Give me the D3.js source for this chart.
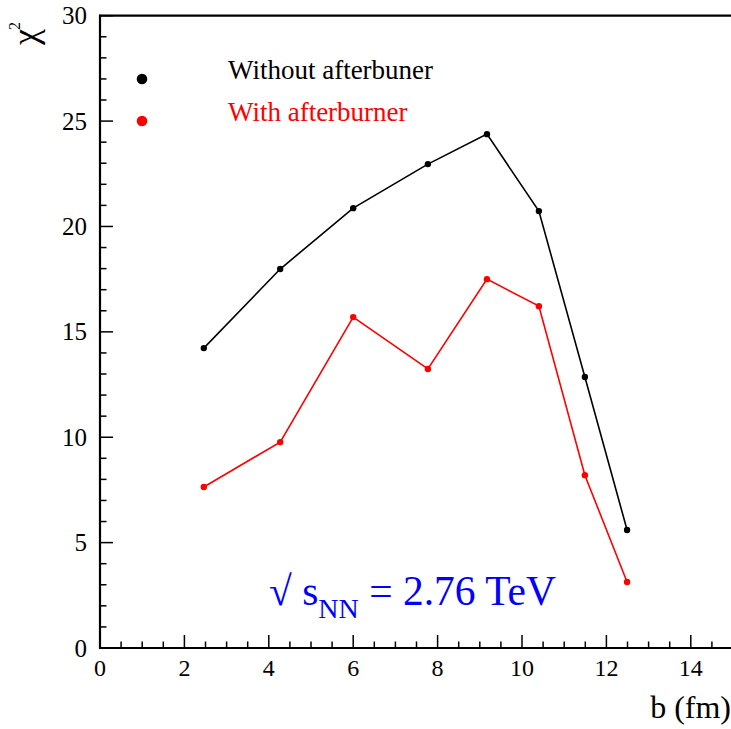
<!DOCTYPE html>
<html>
<head>
<meta charset="utf-8">
<script src="https://cdn.jsdelivr.net/npm/d3@7"></script>
<style>
  html, body { margin: 0; padding: 0; background: #fff; }
  svg { display: block; }
  svg text { font-family: "Liberation Serif", "Times New Roman", serif; }
</style>
</head>
<body>
<svg id="chart" width="731" height="729"></svg>
<script>
// ---- data ----
const impactB = [2.46, 4.27, 6.0, 7.77, 9.17, 10.4, 11.49, 12.49];
const chi2Without = [14.23, 17.98, 20.87, 22.96, 24.38, 20.73, 12.86, 5.6];
const chi2With = [7.64, 9.77, 15.7, 13.24, 17.5, 16.22, 8.2, 3.13];
const seriesNames = ["Without afterbuner", "With afterburner"];
const seriesColors = ["#000000", "#ff0000"];
const xTickValues = [0, 2, 4, 6, 8, 10, 12, 14];
const yTickValues = [0, 5, 10, 15, 20, 25, 30];

const FONT = '"Liberation Serif", "Times New Roman", serif';
const svg = d3.select("#chart");
const x = d3.scaleLinear().domain([0, 15]).range([100, 733]);
const y = d3.scaleLinear().domain([0, 30]).range([648, 15.7]);

// minor ticks
const xMinor = d3.range(0, 15.01, 0.5).filter(v => !xTickValues.includes(v));
const yMinor = d3.range(0, 30.01, 1).filter(v => !yTickValues.includes(v));

const axG = svg.append("g");
axG.selectAll(".xmaj").data(xTickValues).enter().append("line")
  .attr("x1", d => x(d)).attr("x2", d => x(d))
  .attr("y1", y(0)).attr("y2", y(0) - 13)
  .attr("stroke", "#000").attr("stroke-width", 1.5);
axG.selectAll(".xmin").data(xMinor).enter().append("line")
  .attr("x1", d => x(d)).attr("x2", d => x(d))
  .attr("y1", y(0)).attr("y2", y(0) - 6.5)
  .attr("stroke", "#000").attr("stroke-width", 1.5);
axG.selectAll(".ymaj").data(yTickValues).enter().append("line")
  .attr("x1", x(0)).attr("x2", x(0) + 13)
  .attr("y1", d => y(d)).attr("y2", d => y(d))
  .attr("stroke", "#000").attr("stroke-width", 1.5);
axG.selectAll(".ymin").data(yMinor).enter().append("line")
  .attr("x1", x(0)).attr("x2", x(0) + 6.5)
  .attr("y1", d => y(d)).attr("y2", d => y(d))
  .attr("stroke", "#000").attr("stroke-width", 1.5);

// frame lines: bottom, left, top
axG.append("line").attr("x1", x(0) - 1).attr("x2", 731).attr("y1", y(0)).attr("y2", y(0))
  .attr("stroke", "#000").attr("stroke-width", 2.2);
axG.append("line").attr("x1", x(0)).attr("x2", x(0)).attr("y1", y(30) - 1).attr("y2", y(0) + 1)
  .attr("stroke", "#000").attr("stroke-width", 2.2);
axG.append("line").attr("x1", x(0) - 1).attr("x2", 731).attr("y1", y(30)).attr("y2", y(30))
  .attr("stroke", "#000").attr("stroke-width", 2.2);

// tick labels
axG.selectAll("text.xl").data(xTickValues).enter().append("text")
  .attr("class", "xl")
  .attr("x", d => x(d)).attr("y", 675.5)
  .style("font-family", FONT)
  .attr("text-anchor", "middle").attr("font-size", 24)
  .text(d => String(d));
axG.selectAll("text.yl").data(yTickValues).enter().append("text")
  .attr("class", "yl")
  .attr("x", 87).attr("y", d => y(d) + 8.5)
  .style("font-family", FONT)
  .attr("text-anchor", "end").attr("font-size", 25)
  .text(d => String(d));

// axis titles
svg.append("text").attr("x", 731).attr("y", 718).attr("text-anchor", "end")
  .style("font-family", FONT).attr("font-size", 32).text("b (fm)");
svg.append("text").attr("transform", "translate(37,45) rotate(-90)")
  .style("font-family", FONT).attr("font-size", 36).text("χ");
svg.append("text").attr("transform", "translate(20,30) rotate(-90)")
  .style("font-family", FONT).attr("font-size", 16).text("2");

// series
const seriesData = [chi2Without, chi2With];
const line = d3.line().x(d => x(d[0])).y(d => y(d[1]));
seriesData.forEach((vals, i) => {
  const pts = impactB.map((b, j) => [b, vals[j]]);
  svg.append("path").datum(pts).attr("d", line)
    .attr("fill", "none").attr("stroke", seriesColors[i]).attr("stroke-width", 1.6);
  svg.selectAll(".p" + i).data(pts).enter().append("circle")
    .attr("cx", d => x(d[0])).attr("cy", d => y(d[1])).attr("r", 3.2)
    .attr("fill", seriesColors[i]);
});

// legend
const legY = [79, 121];
seriesNames.forEach((n, i) => {
  svg.append("circle").attr("cx", 142).attr("cy", legY[i]).attr("r", 5.3).attr("fill", seriesColors[i]);
  svg.append("text").attr("x", 228).attr("y", legY[i] - 0.5).attr("font-size", 27)
    .style("font-family", FONT)
    .attr("fill", seriesColors[i]).text(n);
});

// energy annotation
const ann = svg.append("text").attr("x", 269).attr("y", 605).attr("font-size", 41.5)
  .style("font-family", FONT).attr("fill", "#0000ff");
ann.append("tspan").text("√ s");
ann.append("tspan").attr("font-size", 28).attr("dy", 13).text("NN");
ann.append("tspan").attr("dy", -13).text(" = 2.76 TeV");
</script>
</body>
</html>
